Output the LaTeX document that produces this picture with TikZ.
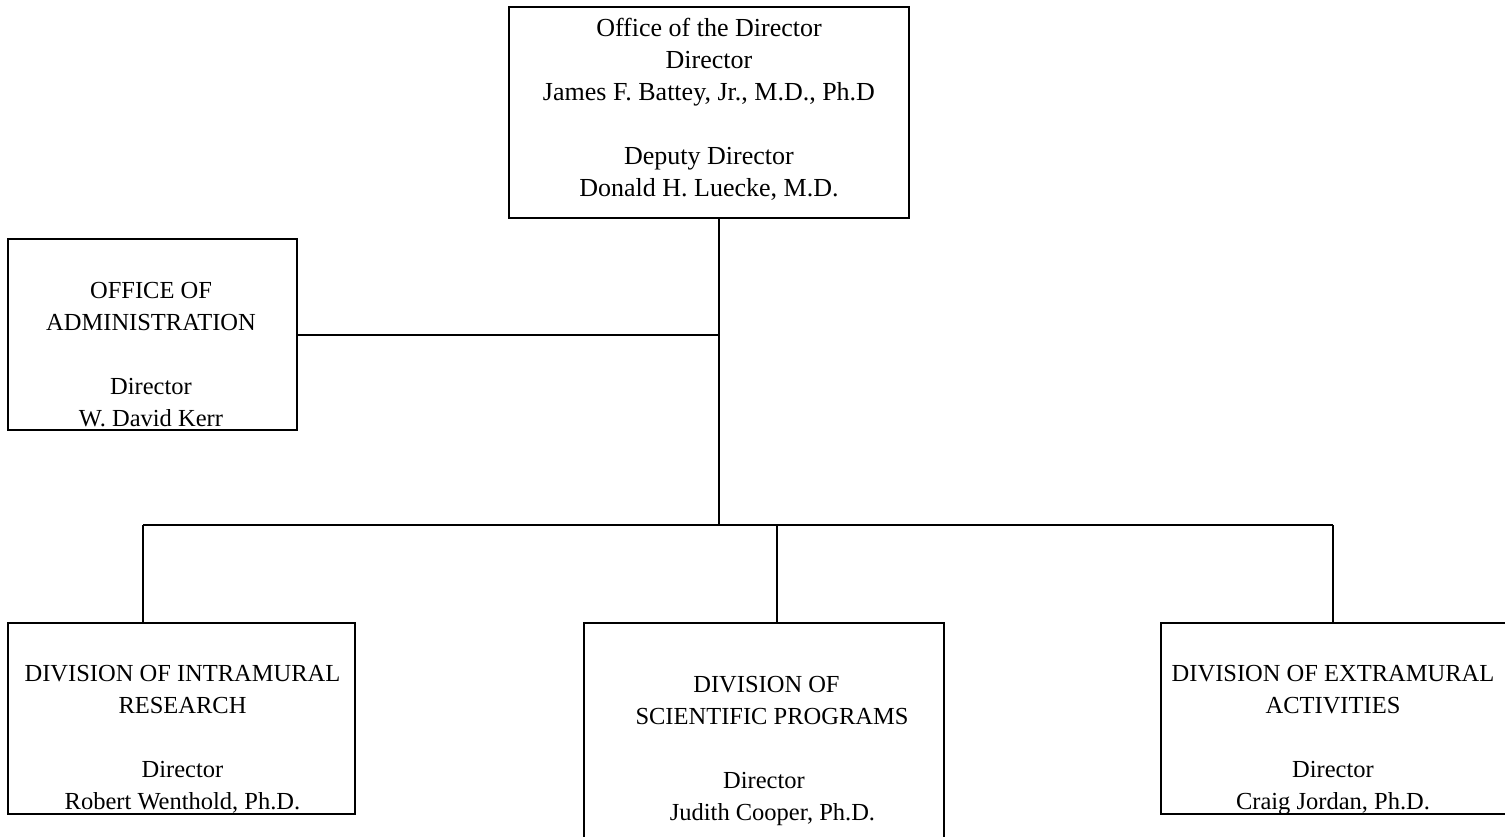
\documentclass[tikz,border=0pt]{standalone}
\usepackage{fontspec}
\setmainfont{Liberation Serif}
\begin{document}
\begin{tikzpicture}[x=1pt,y=-1pt,
  unitbox/.style={draw, rectangle, line width=1.8pt, inner sep=0pt},
  txt/.style={anchor=base, inner sep=0pt, font=\fontsize{24.5}{32}\selectfont},
  toptxt/.style={anchor=base, inner sep=0pt, font=\fontsize{26}{32}\selectfont},
  conn/.style={line width=1.8pt}]
\useasboundingbox (0,0) rectangle (1505,836);
\clip (0,0) rectangle (1505,836);
\setlength{\tabcolsep}{0pt}
% boxes
\node[unitbox, minimum width=400pt, minimum height=211pt] (odir) at (709,112.5) {};
\node[unitbox, minimum width=289pt, minimum height=191pt] (admin) at (152.5,334.5) {};
\node[unitbox, minimum width=347pt, minimum height=191pt] (dir) at (181.5,718.5) {};
\node[unitbox, minimum width=360pt, minimum height=222pt] (dsp) at (764,734) {};
\node[unitbox, minimum width=347pt, minimum height=191pt] (dea) at (1334.5,718.5) {};
% texts
\node[toptxt] (odirt) at (709,36) {\begin{tabular}[t]{c}Office of the Director\\Director\\James F. Battey, Jr., M.D., Ph.D\\ \\Deputy Director\\Donald H. Luecke, M.D.\end{tabular}};
\node[txt] (admint) at (151,298) {\begin{tabular}[t]{c}OFFICE OF\\ADMINISTRATION\\ \\Director\\W. David Kerr\end{tabular}};
\node[txt] (dirt) at (182.5,681) {\begin{tabular}[t]{c}DIVISION OF INTRAMURAL\\RESEARCH\\ \\Director\\Robert Wenthold, Ph.D.\end{tabular}};
\node[txt] (dspt) at (764,692) {\begin{tabular}[t]{c}\hspace*{5pt}DIVISION OF\\\hspace*{16pt}SCIENTIFIC PROGRAMS\\ \\Director\\\hspace*{17pt}Judith Cooper, Ph.D.\end{tabular}};
\node[txt] (deat) at (1333,681) {\begin{tabular}[t]{c}DIVISION OF EXTRAMURAL\\ACTIVITIES\\ \\Director\\Craig Jordan, Ph.D.\end{tabular}};
% connectors
\coordinate (ja) at (719,335);
\coordinate (jb) at (719,525);
\coordinate (d1) at (143,525);
\coordinate (d2) at (777,525);
\coordinate (d3) at (1333,525);
\draw[conn] (odir.south -| ja) -- (jb);
\draw[conn] (admin.east |- ja) -- (ja);
\draw[conn] (d1) -- (d3);
\draw[conn] (d1) -- (d1 |- dir.north);
\draw[conn] (d2) -- (d2 |- dsp.north);
\draw[conn] (d3) -- (d3 |- dea.north);
\end{tikzpicture}
\end{document}
